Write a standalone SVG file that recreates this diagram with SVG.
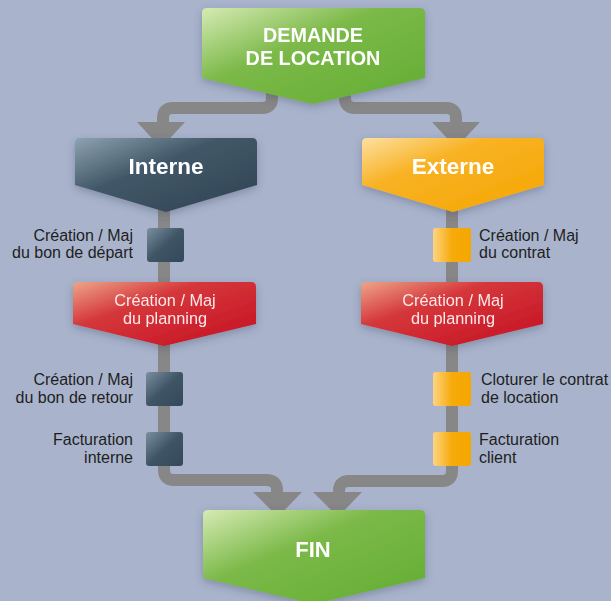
<svg xmlns="http://www.w3.org/2000/svg" width="611" height="601" viewBox="0 0 611 601">
<defs>
<style>
.pipe{fill:none;stroke:#878787;stroke-width:12}
.head{fill:#878787}
.lbl{font-family:"Liberation Sans",Arial,sans-serif;font-size:16px;fill:#1e1e1e}
.ttl{font-family:"Liberation Sans",Arial,sans-serif;font-weight:bold;fill:#fff;text-anchor:middle}
.plan{font-family:"Liberation Sans",Arial,sans-serif;font-size:16.3px;fill:#fbe9ea;text-anchor:middle}
</style>
<linearGradient id="gGreen" x1="0" y1="0" x2="1" y2="1">
<stop offset="0" stop-color="#d6eab4"/><stop offset="0.4" stop-color="#7bb948"/><stop offset="1" stop-color="#63ad32"/>
</linearGradient>
<linearGradient id="gSlate" x1="0" y1="0" x2="1" y2="1">
<stop offset="0" stop-color="#8ea2b0"/><stop offset="0.4" stop-color="#415868"/><stop offset="1" stop-color="#2f4352"/>
</linearGradient>
<linearGradient id="gOrange" x1="0" y1="0" x2="1" y2="1">
<stop offset="0" stop-color="#fde0a0"/><stop offset="0.35" stop-color="#f8b224"/><stop offset="1" stop-color="#f5a600"/>
</linearGradient>
<linearGradient id="gRed" x1="0" y1="0" x2="1" y2="1">
<stop offset="0" stop-color="#eda58a"/><stop offset="0.35" stop-color="#d5373a"/><stop offset="1" stop-color="#c40f22"/>
</linearGradient>
<linearGradient id="gSq" x1="0" y1="0" x2="1" y2="1">
<stop offset="0" stop-color="#7a909f"/><stop offset="0.5" stop-color="#3f5566"/><stop offset="1" stop-color="#334858"/>
</linearGradient>
<linearGradient id="gSqO" x1="0" y1="0" x2="1" y2="0">
<stop offset="0" stop-color="#fdd483"/><stop offset="0.5" stop-color="#f6ab0a"/><stop offset="1" stop-color="#f5a600"/>
</linearGradient>
<filter id="sh" x="-20%" y="-20%" width="140%" height="150%">
<feDropShadow dx="0" dy="3" stdDeviation="4" flood-color="#3a4560" flood-opacity="0.35"/>
</filter>
</defs>
<rect width="611" height="601" fill="#a9b4cc"/>

<g id="connectors">
<path class="pipe" d="M272 90 V98 Q272 108 262 108 H173 Q163 108 163 118 V126"/>
<polygon class="head" points="137,122 185,122 161,148"/>
<path class="pipe" d="M345 90 V98 Q345 108 355 108 H446 Q456 108 456 118 V126"/>
<polygon class="head" points="432,122 480,122 456,148"/>
<path class="pipe" d="M164 200 V470 Q164 480 174 480 H266 Q277 480 277 490 V496"/>
<polygon class="head" points="253,492 302,492 278,517"/>
<path class="pipe" d="M452 200 V471 Q452 481 442 481 H349 Q339 481 339 491 V496"/>
<polygon class="head" points="313,492 362,492 338,517"/>
</g>

<g id="demande" filter="url(#sh)">
<path d="M207 8 H420 Q425 8 425 13 V78 L313 104 L202 78 V13 Q202 8 207 8 Z" fill="url(#gGreen)"/>
<text class="ttl" x="313" y="42" font-size="19.8">DEMANDE</text>
<text class="ttl" x="313" y="65" font-size="19.8">DE LOCATION</text>
</g>

<g id="interne" filter="url(#sh)">
<path d="M80 138 H252 Q257 138 257 143 V185 L166 212 L75 185 V143 Q75 138 80 138 Z" fill="url(#gSlate)"/>
<text class="ttl" x="166" y="174" font-size="22.5">Interne</text>
</g>

<g id="externe" filter="url(#sh)">
<path d="M367 138 H539 Q544 138 544 143 V185 L453 212 L362 185 V143 Q362 138 367 138 Z" fill="url(#gOrange)"/>
<text class="ttl" x="453" y="174" font-size="22.5">Externe</text>
</g>

<g id="planning-interne" filter="url(#sh)">
<path d="M78 282 H251 Q256 282 256 287 V324 L164 346 L73 324 V287 Q73 282 78 282 Z" fill="url(#gRed)"/>
<text class="plan" x="165" y="306">Création / Maj</text>
<text class="plan" x="165" y="324">du planning</text>
</g>

<g id="planning-externe" filter="url(#sh)">
<path d="M366 282 H538 Q543 282 543 287 V324 L452 346 L361 324 V287 Q361 282 366 282 Z" fill="url(#gRed)"/>
<text class="plan" x="453" y="306">Création / Maj</text>
<text class="plan" x="453" y="324">du planning</text>
</g>

<g id="fin" filter="url(#sh)">
<path d="M208 510 H420 Q425 510 425 515 V578 L314 604 L203 578 V515 Q203 510 208 510 Z" fill="url(#gGreen)"/>
<text class="ttl" x="313" y="557" font-size="22">FIN</text>
</g>

<g id="bon-depart">
<rect x="147" y="228" width="37" height="34" rx="3" fill="url(#gSq)"/>
<text class="lbl" x="133" y="241" text-anchor="end">Création / Maj</text>
<text class="lbl" x="133" y="258" text-anchor="end">du bon de départ</text>
</g>
<g id="bon-retour">
<rect x="146" y="372" width="37" height="34" rx="3" fill="url(#gSq)"/>
<text class="lbl" x="133" y="385" text-anchor="end">Création / Maj</text>
<text class="lbl" x="133" y="403" text-anchor="end">du bon de retour</text>
</g>
<g id="fact-interne">
<rect x="146" y="432" width="37" height="34" rx="3" fill="url(#gSq)"/>
<text class="lbl" x="133" y="445" text-anchor="end">Facturation</text>
<text class="lbl" x="133" y="463" text-anchor="end">interne</text>
</g>
<g id="contrat">
<rect x="433" y="228" width="38" height="34" rx="3" fill="url(#gSqO)"/>
<text class="lbl" x="479" y="241">Création / Maj</text>
<text class="lbl" x="479" y="258">du contrat</text>
</g>
<g id="cloturer">
<rect x="433" y="372" width="38" height="34" rx="3" fill="url(#gSqO)"/>
<text class="lbl" x="481" y="385">Cloturer le contrat</text>
<text class="lbl" x="481" y="403">de location</text>
</g>
<g id="fact-client">
<rect x="433" y="432" width="38" height="34" rx="3" fill="url(#gSqO)"/>
<text class="lbl" x="479" y="445">Facturation</text>
<text class="lbl" x="479" y="463">client</text>
</g>
</svg>
